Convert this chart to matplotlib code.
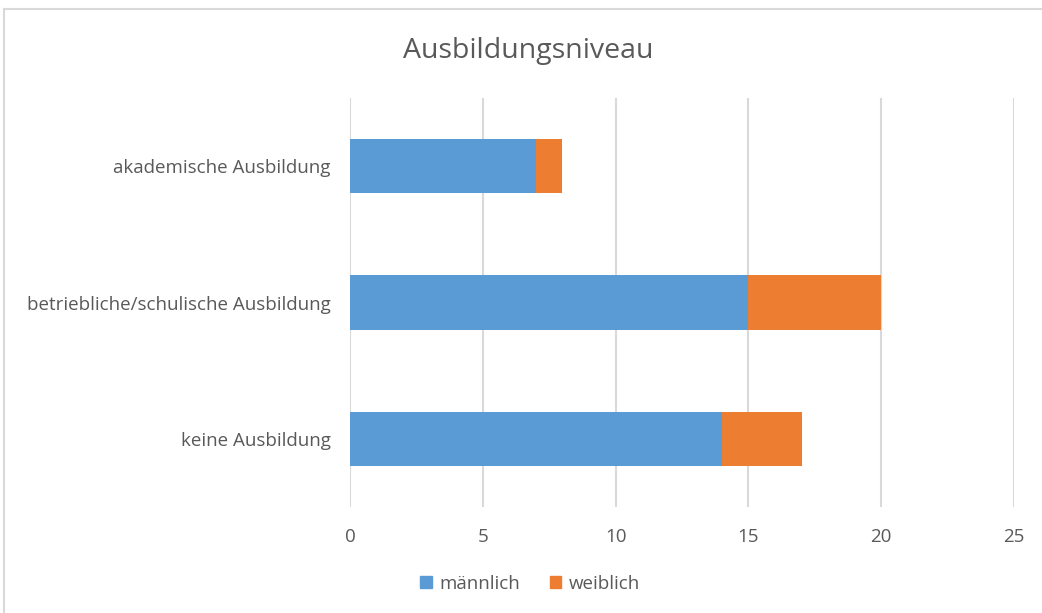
import matplotlib.pyplot as plt
from matplotlib.lines import Line2D
from matplotlib.patches import Patch

plt.rcParams['font.family'] = ['Open Sans', 'DejaVu Sans']

categories = ["keine Ausbildung", "betriebliche/schulische Ausbildung", "akademische Ausbildung"]
maennlich = [14, 15, 7]
weiblich = [3, 5, 1]
series_names = ["männlich", "weiblich"]
xticks = [0, 5, 10, 15, 20, 25]

blue = "#5B9BD5"
orange = "#ED7D31"
text_col = "#595959"
grid_col = "#D9D9D9"

W, H = 1042, 613
fig = plt.figure(figsize=(W / 100, H / 100), dpi=100)
ax = fig.add_axes([350 / W, 1 - 507 / H, (1014 - 350) / W, (507 - 98) / H])

y = range(len(categories))
ax.barh(y, maennlich, height=0.4, color=blue, zorder=3)
ax.barh(y, weiblich, left=maennlich, height=0.4, color=orange, zorder=3)

ax.set_xlim(0, 25)
ax.set_ylim(-0.5, 2.5)
ax.set_xticks(xticks)
ax.set_xticklabels([str(t) for t in xticks])
ax.set_yticks(list(y))
ax.set_yticklabels(categories)
ax.grid(axis="x", color=grid_col, linewidth=1.5, zorder=0)
for s in ax.spines.values():
    s.set_visible(False)
ax.tick_params(length=0, colors=text_col, labelsize=13.5)
ax.tick_params(axis="x", pad=15)
ax.tick_params(axis="y", pad=14)

fig.text(528 / W, 1 - 51 / H, "Ausbildungsniveau", ha="center", va="center",
         fontsize=20.5, color=text_col)

handles = [Patch(color=blue), Patch(color=orange)]
leg = fig.legend(handles, series_names, loc="center", bbox_to_anchor=(530 / W, 1 - 584 / H),
                 ncol=2, frameon=False, fontsize=13.5, handlelength=0.6, handleheight=0.6,
                 handletextpad=0.4, columnspacing=1.6)
for t in leg.get_texts():
    t.set_color(text_col)

# outer chart border (only top and left visible in the crop)
fig.add_artist(Line2D([4 / W, 4 / W], [0, 1 - 9 / H], color=grid_col, linewidth=1.5))
fig.add_artist(Line2D([4 / W, 1], [1 - 9 / H, 1 - 9 / H], color=grid_col, linewidth=1.5))

fig.savefig("out.png", dpi=100)
